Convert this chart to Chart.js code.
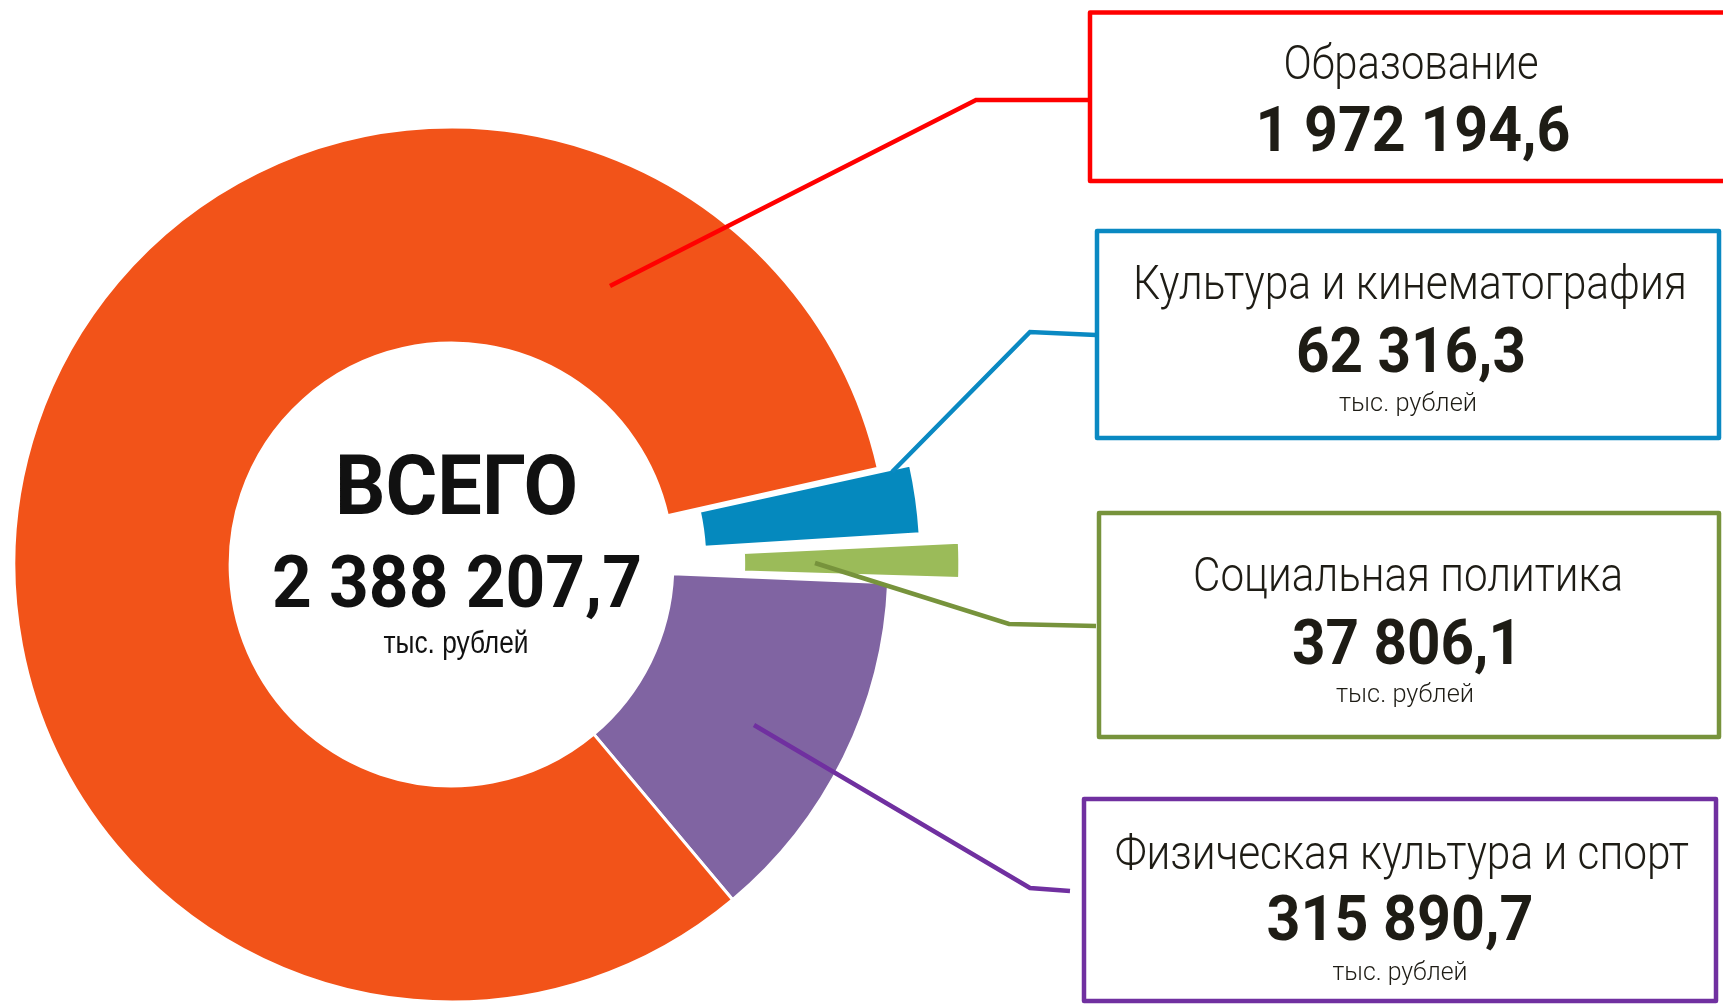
<!DOCTYPE html>
<html>
<head>
<meta charset="utf-8">
<script src="https://cdn.jsdelivr.net/npm/chart.js@4.4.1/dist/chart.umd.min.js"></script>
<style>
  html, body { margin: 0; padding: 0; background: #fff; }
  canvas { display: block; }
</style>
</head>
<body>
<canvas id="budgetChart" width="1723" height="1004"></canvas>
<script>
// slices go clockwise starting from the blue one
const categories = ['Культура и кинематография', 'Социальная политика', 'Физическая культура и спорт', 'Образование'];
const values = [62316.3, 37806.1, 315890.7, 1972194.6];
const unitLabel = 'тыс. рублей';
const totalLabel = 'ВСЕГО';

const sliceColors = ['#0589BE', '#9BBB59', '#8064A2', '#F25319'];
const lineColors = ['#0A89C2', '#77933C', '#7030A0', '#FF0000'];

function formatRu(v) {
    const parts = v.toFixed(1).split('.');
    return parts[0].replace(/\B(?=(\d{3})+(?!\d))/g, ' ') + ',' + parts[1];
}

// draw text squeezed to a given width (the original uses a narrow DIN face)
function fitText(ctx, text, cx, y, font, w, color) {
    ctx.save();
    ctx.font = font;
    const m = ctx.measureText(text).width;
    ctx.translate(cx, y);
    ctx.scale(w / m, 1);
    ctx.textAlign = 'center';
    ctx.textBaseline = 'alphabetic';
    ctx.fillStyle = color;
    ctx.fillText(text, 0, 0);
    ctx.restore();
}

const calloutPlugin = {
    id: 'callouts',
    afterDatasetsDraw(chart) {
        const ctx = chart.ctx;
        const textColor = '#1e1c15';

        // leader lines: [index, points]
        const leaders = [
            [3, [[610, 286], [976, 100], [1090, 100]]],
            [0, [[892, 472], [1030, 332], [1096, 335]]],
            [1, [[815, 563], [1009, 624], [1096, 626]]],
            [2, [[754, 725], [1030, 888], [1070, 891]]]
        ];
        ctx.save();
        ctx.lineWidth = 4.5;
        ctx.lineJoin = 'miter';
        leaders.forEach(([i, pts]) => {
            ctx.strokeStyle = lineColors[i];
            ctx.beginPath();
            ctx.moveTo(pts[0][0], pts[0][1]);
            for (let k = 1; k < pts.length; k++) ctx.lineTo(pts[k][0], pts[k][1]);
            ctx.stroke();
        });

        // boxes
        const boxes = [
            [3, 1090, 12.5, 660, 168.5],
            [0, 1097, 231, 622, 207],
            [1, 1099, 513, 620, 224],
            [2, 1084, 799, 632, 202]
        ];
        ctx.lineWidth = 4.5;
        ctx.lineJoin = 'round';
        boxes.forEach(([i, x, y, w, h]) => {
            ctx.strokeStyle = lineColors[i];
            ctx.strokeRect(x, y, w, h);
        });
        ctx.restore();

        const labelFont = '300 48px Roboto';
        const numFont = 'bold 63px Roboto';
        const unitFont = '300 26px Roboto';

        // Образование
        fitText(ctx, categories[3], 1411, 79, labelFont, 255, textColor);
        fitText(ctx, formatRu(values[3]), 1413, 151, numFont, 315, textColor);
        // Культура
        fitText(ctx, categories[0], 1410, 299, labelFont, 554, textColor);
        fitText(ctx, formatRu(values[0]), 1411, 372, numFont, 230, textColor);
        fitText(ctx, unitLabel, 1408, 411, unitFont, 138, textColor);
        // Социальная политика
        fitText(ctx, categories[1], 1408, 591, labelFont, 430, textColor);
        fitText(ctx, formatRu(values[1]), 1407, 664, numFont, 230, textColor);
        fitText(ctx, unitLabel, 1405, 702, unitFont, 138, textColor);
        // Физическая культура
        fitText(ctx, categories[2], 1402, 869, labelFont, 574, textColor);
        fitText(ctx, formatRu(values[2]), 1400, 940, numFont, 267, textColor);
        fitText(ctx, unitLabel, 1400, 980, unitFont, 135, textColor);

        // centre
        const total = values.reduce((a, b) => a + b, 0);
        fitText(ctx, totalLabel, 456.5, 514, 'bold 83px Roboto', 243, '#111111');
        fitText(ctx, formatRu(total), 457, 607, 'bold 73px Roboto', 370, '#111111');
        fitText(ctx, unitLabel, 456, 653, '31px "Liberation Sans"', 145, '#111111');
    }
};

const ctx = document.getElementById('budgetChart').getContext('2d');
const chart = new Chart(ctx, {
    type: 'doughnut',
    data: {
        labels: categories,
        datasets: [{
            data: values,
            backgroundColor: sliceColors,
            borderColor: '#ffffff',
            borderWidth: 3,
            offset: [70, 149, 0, 0],
            hoverOffset: 0
        }]
    },
    options: {
        responsive: false,
        animation: false,
        devicePixelRatio: 1,
        events: [],
        rotation: 77.3,
        radius: 437.5,
        cutout: '50.6%',
        layout: {
            padding: { left: 0, right: 820, top: 125, bottom: 0 }
        },
        plugins: {
            legend: { display: false },
            tooltip: { enabled: false }
        }
    },
    plugins: [calloutPlugin]
});
</script>
</body>
</html>
